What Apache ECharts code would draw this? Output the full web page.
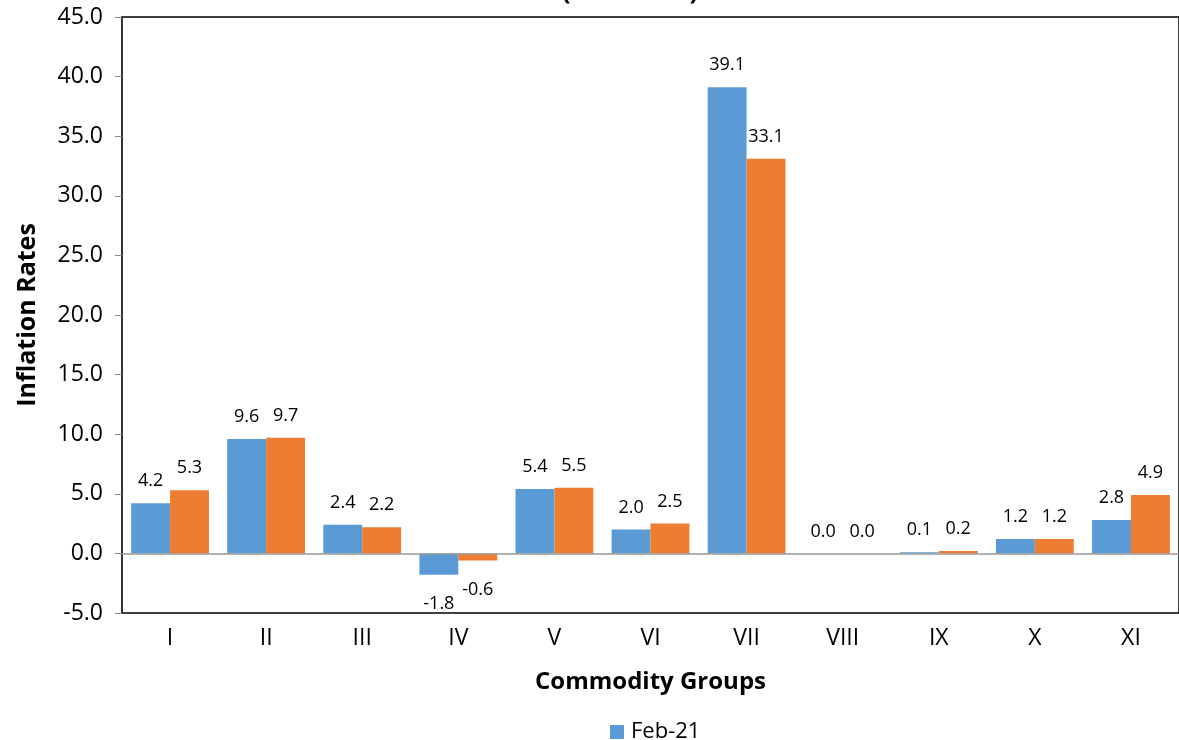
<!DOCTYPE html>
<html><head><meta charset="utf-8">
<script src="https://cdn.jsdelivr.net/npm/echarts@6/dist/echarts.min.js"></script>
<style>html,body{margin:0;padding:0;background:#fff}#c{width:1179px;height:740px}</style>
</head><body><div id="c"></div>
<script>
const categories = ['I','II','III','IV','V','VI','VII','VIII','IX','X','XI'];
const seriesA = [4.2, 9.6, 2.4, -1.8, 5.4, 2.0, 39.1, 0.0, 0.1, 1.2, 2.8];
const seriesB = [5.3, 9.7, 2.2, -0.6, 5.5, 2.5, 33.1, 0.0, 0.2, 1.2, 4.9];
const nameA = 'Feb-21';
const nameB = 'Mar-21';
const titleText = '(2012=100)';
const FONT = '"Open Sans"';
const chart = echarts.init(document.getElementById('c'));
function lbl(){
  return {show:true, fontFamily:FONT, fontSize:18, color:'#000',
    position:'top', distance:13,
    formatter:p=>p.value.toFixed(1)};
}
function mk(vals){
  return vals.map(v=>({value:v, label: v<0 ? {position:'bottom', distance:20} : {}}));
}
chart.setOption({
  animation:false,
  title:{text:titleText, left:625, top:-26, textAlign:'center',
    textStyle:{fontFamily:FONT, fontSize:26, fontWeight:'bold', color:'#000'}},
  legend:{data:[nameA], top:716, left:605, itemWidth:14, itemHeight:14, itemGap:6,
    icon:'rect', textStyle:{fontFamily:FONT, fontSize:22, color:'#000', padding:[0,0,0,2]}},
  grid:{left:122, right:-3, top:17, bottom:127, show:true, borderColor:'#000', borderWidth:1.5},
  xAxis:{type:'category', data:categories,
    axisLine:{show:false}, axisTick:{show:false},
    axisLabel:{fontFamily:FONT, fontSize:23, color:'#000', margin:14},
    name:'Commodity Groups', nameLocation:'middle', nameGap:57,
    nameTextStyle:{fontFamily:FONT, fontSize:24, fontWeight:'bold', color:'#000'}},
  yAxis:{type:'value', min:-5, max:45, interval:5,
    axisLine:{show:true, lineStyle:{color:'#333', width:1.5}},
    axisTick:{show:true, inside:false, length:7, lineStyle:{color:'#888'}},
    splitLine:{show:false},
    axisLabel:{fontFamily:FONT, fontSize:23, color:'#000', margin:19, formatter:v=>v.toFixed(1)},
    name:'Inflation Rates', nameLocation:'middle', nameGap:82,
    nameTextStyle:{fontFamily:FONT, fontSize:25, fontWeight:'bold', color:'#000'}},
  series:[
    {name:nameA, type:'bar', data:mk(seriesA), barGap:'0%', barCategoryGap:'19%',
      itemStyle:{color:'#5B9BD5'}, label:lbl(),
      markLine:{silent:true, symbol:'none', label:{show:false},
        lineStyle:{color:'#999', type:'solid', width:1.5}, data:[{yAxis:0}]}},
    {name:nameB, type:'bar', data:mk(seriesB), barGap:'0%', barCategoryGap:'19%',
      itemStyle:{color:'#ED7D31'}, label:lbl()}
  ]
});
</script></body></html>
